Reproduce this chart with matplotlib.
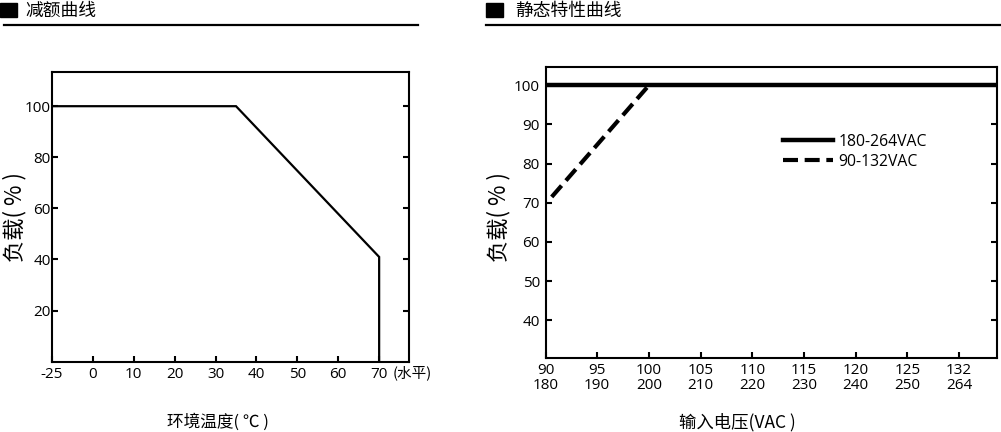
import numpy as np
import matplotlib
matplotlib.use("Agg")
import matplotlib.pyplot as plt
from matplotlib.patches import Rectangle
from matplotlib.lines import Line2D

# ---------------- data ----------------
# Left: derating curve
temp_ticks = [-25, 0, 10, 20, 30, 40, 50, 60, 70]
load_ticks_left = [20, 40, 60, 80, 100]
derate_temp = [-25, 35, 70, 70]
derate_load = [100, 100, 41, 0]

# Right: static characteristic
volt_ticks_low = [90, 95, 100, 105, 110, 115, 120, 125, 132]
volt_ticks_high = [180, 190, 200, 210, 220, 230, 240, 250, 264]
load_ticks_right = [40, 50, 60, 70, 80, 90, 100]
high_range_load = 100
low_range_volt = [90.6, 100]
low_range_load = [71.5, 100]

CJK = ['Noto Sans CJK SC', 'DejaVu Sans']
NUM = ['Open Sans', 'Noto Sans CJK SC', 'DejaVu Sans']

W, H = 1001, 432
fig = plt.figure(figsize=(W / 100, H / 100), dpi=100)

def fx(px):
    return px / W

def fy(py):
    return 1 - py / H

# ---------------- headers ----------------
for sx, tx, title, lx0, lx1 in [(0, 25, '减额曲线', 4, 418),
                                 (486, 515, '静态特性曲线', 486, 1001)]:
    fig.patches.append(Rectangle((fx(sx), fy(17)), fx(17), 14 / H,
                                 transform=fig.transFigure, color='black'))
    fig.text(fx(tx), fy(10.5), title, family=CJK, fontsize=12.8,
             ha='left', va='center')
    fig.lines.append(Line2D([fx(lx0), fx(lx1)], [fy(25), fy(25)],
                            transform=fig.transFigure, color='black', lw=1.6))

# ---------------- left chart ----------------
ax1 = fig.add_axes([fx(52), fy(361.7), 357 / W, 290 / H])
tpos = np.arange(len(temp_ticks))
xd = np.interp(derate_temp, temp_ticks, tpos)
ax1.plot(xd, derate_load, color='black', lw=1.6, solid_joinstyle='miter')
ax1.set_xlim(0, 8.73)
ax1.set_ylim(0, 113.5)
ax1.set_xticks(tpos)
ax1.set_xticklabels([str(t) for t in temp_ticks])
ax1.set_yticks(load_ticks_left)
ax1.set_yticklabels([str(v) for v in load_ticks_left])
ax1.tick_params(axis='x', direction='in', length=4, width=1.5, pad=4,
                labelsize=11)
ax1.tick_params(axis='y', direction='in', length=4, width=1.5, pad=1,
                labelsize=11, right=True)
ax1.text((393 - 52) / 357, (361.7 - 373) / 290, '(水平)', family=CJK,
         fontsize=10.5, ha='left', va='center', transform=ax1.transAxes)
ax1.set_ylabel('负载( % )', family=CJK, fontsize=16)
ax1.yaxis.label.set_va('center')
ax1.yaxis.set_label_coords((15 - 52) / 357, (361.7 - 217) / 290)
ax1.set_xlabel('环境温度( ℃ )', family=CJK, fontsize=12)
ax1.xaxis.label.set_va('center')
ax1.xaxis.set_label_coords((218 - 52) / 357, (361.7 - 422) / 290)

# ---------------- right chart ----------------
ax2 = fig.add_axes([fx(545.5), fy(357.7), 451.8 / W, 290.4 / H])
vpos = np.arange(len(volt_ticks_low))
ax2.axhline(high_range_load, color='black', lw=3.2, label='180-264VAC')
xl = np.interp(low_range_volt, volt_ticks_low, vpos)
ax2.plot(xl, low_range_load, color='black', lw=3.0,
         linestyle=(0, (3.6, 1.6)), dash_capstyle='butt', label='90-132VAC')
ax2.set_xlim(0, 8.74)
ax2.set_ylim(30.45, 104.6)
ax2.set_xticks(vpos)
ax2.set_xticklabels([f'{a}\n{b}' for a, b in zip(volt_ticks_low, volt_ticks_high)],
                    linespacing=1.0)
ax2.set_yticks(load_ticks_right)
ax2.set_yticklabels([str(v) for v in load_ticks_right])
ax2.tick_params(axis='x', direction='in', length=4, width=1.5, pad=4,
                labelsize=11)
ax2.tick_params(axis='y', direction='in', length=4, width=1.5, pad=4,
                labelsize=11, right=True)
ax2.set_ylabel('负载( % )', family=CJK, fontsize=16)
ax2.yaxis.label.set_va('center')
ax2.yaxis.set_label_coords((498.5 - 545.5) / 451.8, (357.7 - 217) / 290.4)
ax2.set_xlabel('输入电压(VAC )', family=CJK, fontsize=12.5)
ax2.xaxis.label.set_va('center')
ax2.xaxis.set_label_coords((737 - 545.5) / 451.8, (357.7 - 422) / 290.4)
leg = ax2.legend(loc='upper left', bbox_to_anchor=((783 - 545.5) / 451.8,
                                                   (357.7 - 133.5) / 290.4),
                 frameon=False, borderpad=0, borderaxespad=0,
                 handlelength=3.2, handletextpad=0.35, labelspacing=0.28,
                 prop={'family': NUM, 'size': 11.3})

for ax in (ax1, ax2):
    for sp in ax.spines.values():
        sp.set_linewidth(1.5)
    for lab in ax.get_xticklabels() + ax.get_yticklabels():
        lab.set_family(NUM)

fig.savefig('out.png', dpi=100)
